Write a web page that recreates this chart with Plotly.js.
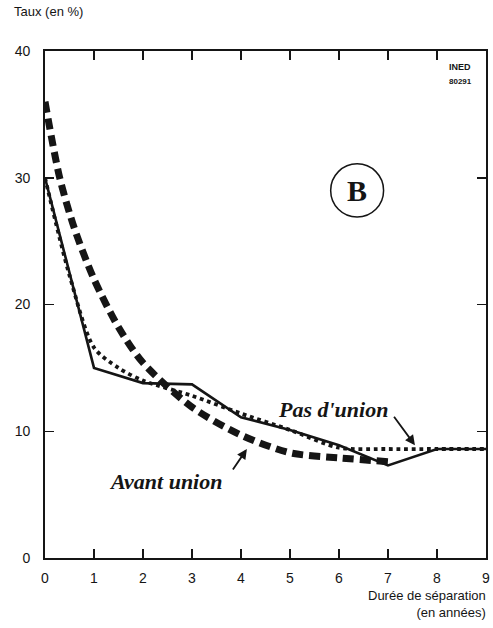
<!DOCTYPE html>
<html>
<head>
<meta charset="utf-8">
<script src="https://cdn.plot.ly/plotly-3.0.1.min.js"></script>
<style>html,body{margin:0;padding:0;background:#fff;}#chart{width:493px;height:628px;}</style>
</head>
<body>
<div id="chart"></div>
<script>
// Durée de séparation (années)
const xSolid = [0, 1, 2, 3, 4, 5, 6, 7, 8, 9];
const ySolid = [30, 15.0, 13.8, 13.7, 11.1, 10.1, 8.9, 7.3, 8.6, 8.6];

const xDotted = [0, 0.5, 1, 1.5, 2, 3, 4, 5, 6, 7, 8, 9];
const yDotted = [30, 22.3, 16.6, 15.0, 14.0, 12.8, 11.4, 10.1, 8.7, 8.6, 8.6, 8.6];

const xDashed = [0, 0.3, 0.6, 1, 1.5, 2, 3, 4, 5, 6, 7];
const yDashed = [36, 30, 26, 22, 18.2, 15.4, 11.9, 9.7, 8.3, 7.9, 7.6];

const xTicks = [0, 1, 2, 3, 4, 5, 6, 7, 8, 9];
const yTicks = [0, 10, 20, 30, 40];

const ink = '#151515';
const traces = [
  {x: xSolid, y: ySolid, mode: 'lines', line: {color: ink, width: 2.6}, hoverinfo: 'skip'},
  {x: xDotted, y: yDotted, mode: 'lines', line: {color: ink, width: 3.8, dash: 'dot', shape: 'spline', smoothing: 0.8}, hoverinfo: 'skip'},
  {x: xDashed, y: yDashed, mode: 'lines', line: {color: ink, width: 7, dash: '11px,6px', shape: 'spline', smoothing: 0.8}, hoverinfo: 'skip'}
];

const axisFont = {family: 'Liberation Sans, Arial, sans-serif', size: 14, color: ink};
const labelFont = {family: 'Liberation Serif, Times New Roman, serif', size: 22, color: ink};

const layout = {
  width: 493, height: 628,
  margin: {l: 45, r: 7, t: 51, b: 70},
  paper_bgcolor: '#fff', plot_bgcolor: '#fff',
  showlegend: false,
  xaxis: {range: [0, 9], tickvals: xTicks, ticktext: xTicks.map(String), ticks: 'inside', ticklen: 9, tickwidth: 1.5,
          tickcolor: ink, showline: true, linecolor: ink, linewidth: 1.8, mirror: 'allticks', showgrid: false, zeroline: false,
          tickfont: axisFont, ticklabelstandoff: 6, fixedrange: true},
  yaxis: {range: [0, 40], tickvals: yTicks, ticktext: yTicks.map(String), ticks: 'inside', ticklen: 9, tickwidth: 1.5,
          tickcolor: ink, showline: true, linecolor: ink, linewidth: 1.8, mirror: 'allticks', showgrid: false, zeroline: false,
          tickfont: axisFont, ticklabelstandoff: 10, fixedrange: true},
  shapes: [
    {type: 'circle', xref: 'x', yref: 'y', x0: 5.83, x1: 6.91, y0: 26.9, y1: 31.1, line: {color: ink, width: 1.5}}
  ],
  annotations: [
    {xref: 'paper', yref: 'paper', x: -0.075, y: 1.06, xanchor: 'left', yanchor: 'bottom', showarrow: false,
     text: 'Taux (en %)', font: {family: 'Liberation Sans, Arial, sans-serif', size: 13, color: ink}},
    {xref: 'paper', yref: 'paper', x: 1.005, y: -0.056, xanchor: 'right', yanchor: 'top', showarrow: false, align: 'right',
     text: 'Durée de séparation<br>(en années)', font: {family: 'Liberation Sans, Arial, sans-serif', size: 13, color: ink}},
    {xref: 'x', yref: 'y', x: 6.37, y: 29.0, showarrow: false, text: '<b>B</b>',
     font: {family: 'Liberation Serif, Times New Roman, serif', size: 30, color: ink}},
    {xref: 'x', yref: 'y', x: 8.47, y: 38.7, showarrow: false, text: '<b>INED</b>',
     font: {family: 'Liberation Sans Narrow, Arial Narrow, sans-serif', size: 9, color: ink}},
    {xref: 'x', yref: 'y', x: 8.47, y: 37.6, showarrow: false, text: '<b>80291</b>',
     font: {family: 'Liberation Sans Narrow, Arial Narrow, sans-serif', size: 8, color: ink}},
    {xref: 'x', yref: 'y', x: 5.88, y: 11.7, showarrow: false, text: '<b><i>Pas d\'union</i></b>', font: labelFont},
    {xref: 'x', yref: 'y', x: 2.45, y: 6.0, showarrow: false, text: '<b><i>Avant union</i></b>', font: labelFont},
    {xref: 'x', yref: 'y', x: 7.55, y: 8.9, ax: -22, ay: -30, text: '', showarrow: true, arrowhead: 2, arrowsize: 1.1,
     arrowwidth: 1.8, arrowcolor: ink},
    {xref: 'x', yref: 'y', x: 4.12, y: 8.6, ax: -15, ay: 22, text: '', showarrow: true, arrowhead: 2, arrowsize: 1.1,
     arrowwidth: 1.8, arrowcolor: ink}
  ]
};

Plotly.newPlot('chart', traces, layout, {displayModeBar: false, staticPlot: true});
</script>
</body>
</html>
